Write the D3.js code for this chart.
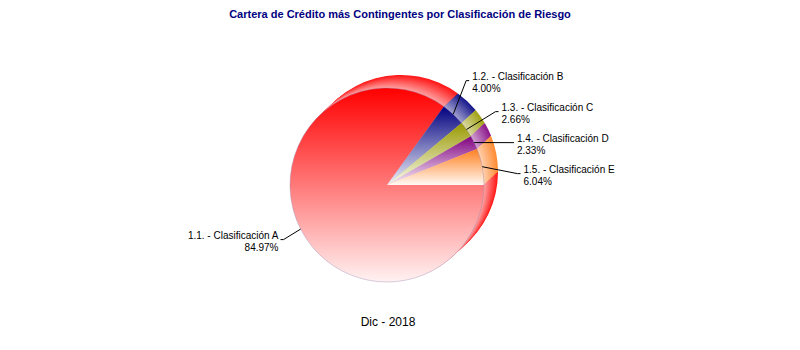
<!DOCTYPE html>
<html>
<head>
<meta charset="utf-8">
<script src="https://cdn.jsdelivr.net/npm/d3@7"></script>
<style>
  body { margin: 0; background: #fff; }
  svg { display: block; }
</style>
</head>
<body>
<svg id="chart" width="800" height="350"></svg>
<script>
const width = 800
const height = 350

const title = "Cartera de Crédito más Contingentes por Clasificación de Riesgo"
const period = "Dic - 2018"
const categories = ["1.1. - Clasificación A", "1.2. - Clasificación B", "1.3. - Clasificación C",
    "1.4. - Clasificación D", "1.5. - Clasificación E"]
const values = [84.97, 4.00, 2.66, 2.33, 6.04]
const colors = ["#ff0000", "#000080", "#999900", "#800080", "#ff7f1f"]

const cx = 387,
    cy = 185,
    radius = 97,
    depthX = 14,
    depthY = -13,
    layers = 14;

const svg = d3.select("#chart");
const defs = svg.append("defs");
const color = d3.scaleOrdinal().domain(categories).range(colors);
const fmt = d3.format(".2f");

const data = categories.map((c, i) => ({ name: c, value: values[i] }));

// start at 3 o'clock, go clockwise
const pie = d3.pie()
    .sort(null)
    .value(d => d.value)
    .startAngle(Math.PI / 2)
    .endAngle(Math.PI / 2 + 2 * Math.PI);
const arcs = pie(data);
const arc = d3.arc().innerRadius(0).outerRadius(radius);

// title
svg.append("text")
    .attr("x", width / 2)
    .attr("y", 18)
    .attr("text-anchor", "middle")
    .style("font-family", "'Liberation Sans', Arial, sans-serif")
    .style("font-weight", "bold")
    .style("font-size", "11px")
    .style("fill", "#000080")
    .text(title);

const g = svg.append("g").attr("transform", `translate(${cx},${cy})`);

// side wall: stack copies from back to front
for (let i = layers; i >= 1; i--) {
    const k = i / layers;
    g.append("g")
        .attr("transform", `translate(${depthX * k},${depthY * k})`)
        .selectAll("path")
        .data(arcs)
        .join("path")
        .attr("d", arc)
        .attr("fill", d => d3.interpolateRgb(color(d.data.name), "#fff")(0.1 + 0.55 * (1 - k)));
}

// front face gradients, one per slice (vertical, per bounding box)
arcs.forEach((d, i) => {
    const base = color(d.data.name);
    const grad = defs.append("linearGradient")
        .attr("id", "grad" + i)
        .attr("x1", 0).attr("y1", 0)
        .attr("x2", 0).attr("y2", 1);
    grad.append("stop").attr("offset", "0%").attr("stop-color", base);
    grad.append("stop").attr("offset", "100%")
        .attr("stop-color", d3.interpolateRgb(base, "#fff")(0.95));
});

g.selectAll("path.front")
    .data(arcs)
    .join("path")
    .attr("class", "front")
    .attr("d", arc)
    .attr("fill", (d, i) => `url(#grad${i})`);

g.append("circle")
    .attr("r", radius)
    .attr("fill", "none")
    .attr("stroke", "#9a86b0")
    .attr("stroke-opacity", 0.5)
    .attr("stroke-width", 0.8);

// labels
const anchorR = 97,
    labelRy = 120,
    labelRx = 117,
    gap = 31;

const labels = arcs.map(d => {
    const a = (d.startAngle + d.endAngle) / 2;
    const right = Math.sin(a) >= 0;
    return {
        d: d,
        right: right,
        ax: anchorR * Math.sin(a),
        ay: -anchorR * Math.cos(a),
        y: -labelRy * Math.cos(a)
    };
});

// spread overlapping labels on each side
[true, false].forEach(side => {
    const list = labels.filter(l => l.right === side).sort((a, b) => a.y - b.y);
    for (let it = 0; it < 200; it++) {
        for (let j = 1; j < list.length; j++) {
            const over = gap - (list[j].y - list[j - 1].y);
            if (over > 0) {
                list[j - 1].y -= over / 2;
                list[j].y += over / 2;
            }
        }
    }
});

labels.forEach(l => {
    const rx = labelRx + (l.right ? depthX : 0);
    const dy = Math.max(-rx, Math.min(rx, l.y));
    l.x = (l.right ? 1 : -1) * Math.sqrt(rx * rx - dy * dy);
});

const lab = g.selectAll("g.label")
    .data(labels)
    .join("g")
    .attr("class", "label");

lab.append("polyline")
    .attr("points", l => [[l.ax, l.ay], [l.x, l.y], [l.x + (l.right ? 3 : -3), l.y]].map(p => p.join(",")).join(" "))
    .attr("fill", "none")
    .attr("stroke", "#000")
    .attr("stroke-width", 1);

const txt = lab.append("text")
    .attr("text-anchor", l => l.right ? "start" : "end")
    .style("font-family", "'Liberation Sans', Arial, sans-serif")
    .style("font-size", "10px")
    .style("fill", "#000");

txt.append("tspan")
    .attr("x", l => l.x + (l.right ? 6 : -5))
    .attr("y", l => l.y - 0.5)
    .text(l => l.d.data.name);
txt.append("tspan")
    .attr("x", l => l.x + (l.right ? 6 : -5))
    .attr("y", l => l.y + 11.5)
    .text(l => fmt(l.d.data.value) + "%");

// period label
svg.append("text")
    .attr("x", 388)
    .attr("y", 326)
    .attr("text-anchor", "middle")
    .style("font-family", "'Liberation Sans', Arial, sans-serif")
    .style("font-size", "12px")
    .style("fill", "#000")
    .text(period);
</script>
</body>
</html>
